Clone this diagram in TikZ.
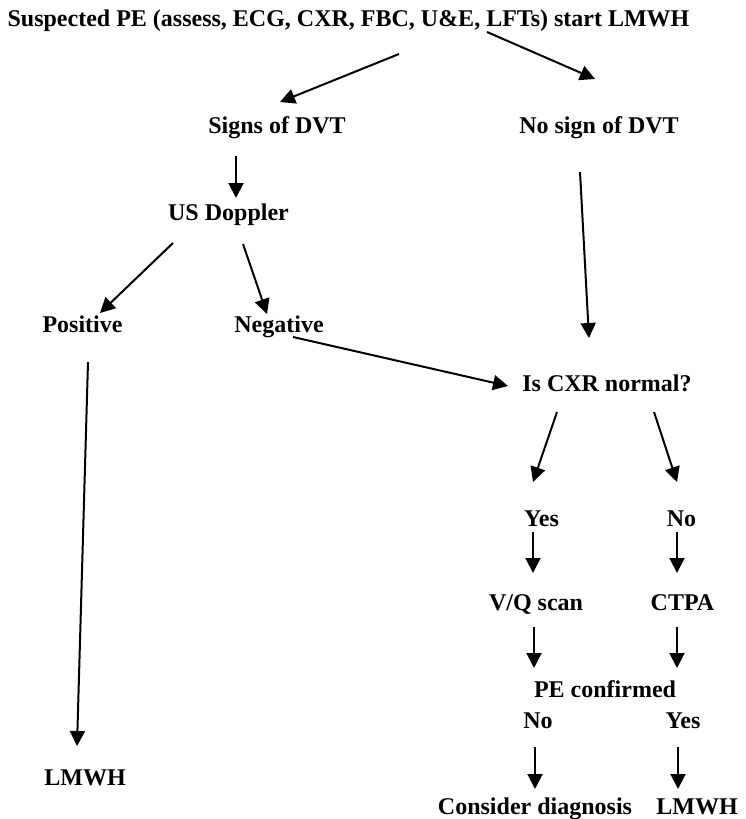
\documentclass[tikz,border=0pt]{standalone}
\usepackage{fontspec}
\setmainfont{Liberation Serif}
\usetikzlibrary{arrows.meta}
\begin{document}
\begin{tikzpicture}[x=1pt,y=-1pt,
  lbl/.style={anchor=base,inner sep=0pt,font=\fontsize{24}{28}\selectfont\bfseries},
  flow/.style={line width=2pt,-{Triangle[length=15pt,width=15pt]}}]
\useasboundingbox (0,0) rectangle (746,819);

% labels
\node[lbl] (title) at (348.5,26) {Suspected PE (assess, ECG, CXR, FBC, U\&E, LFTs) start LMWH};
\node[lbl] (sdvt)  at (277,133)  {Signs of DVT};
\node[lbl] (ndvt)  at (599,133)  {No sign of DVT};
\node[lbl] (usd)   at (228.5,220) {US Doppler};
\node[lbl] (pos)   at (82.5,332) {Positive};
\node[lbl] (neg)   at (279,332)  {Negative};
\node[lbl] (lmwhA) at (85,785)   {LMWH};
\node[lbl] (cxr)   at (607,391)  {Is CXR normal?};
\node[lbl] (cyes)  at (541.5,526) {Yes};
\node[lbl] (cno)   at (681.5,526) {No};
\node[lbl] (vq)    at (536,610)  {V/Q scan};
\node[lbl] (ctpa)  at (682.5,610) {CTPA};
\node[lbl] (pec)   at (605,697)  {PE confirmed};
\node[lbl] (pno)   at (538,728)  {No};
\node[lbl] (pyes)  at (683,728)  {Yes};
\node[lbl] (cons)  at (535,814)  {Consider diagnosis};
\node[lbl] (lmwhB) at (697,814)  {LMWH};

% connector end points
\coordinate (t-l)  at (399,54);   \coordinate (sdvt-in) at (280,102);
\coordinate (t-r)  at (487,32);   \coordinate (ndvt-in) at (595,79);
\coordinate (sdvt-out) at (236,156); \coordinate (usd-in) at (236,198);
\coordinate (usd-l) at (173,243); \coordinate (pos-in) at (100,313);
\coordinate (usd-r) at (243,244); \coordinate (neg-in) at (267,314);
\coordinate (pos-out) at (88,362); \coordinate (lmwhA-in) at (77,746);
\coordinate (ndvt-out) at (580,172); \coordinate (cxr-in1) at (589,338);
\coordinate (neg-out) at (293,337); \coordinate (cxr-in2) at (508,386);
\coordinate (cxr-l) at (557,412); \coordinate (cyes-in) at (533,482);
\coordinate (cxr-r) at (654,412); \coordinate (cno-in) at (677,482);
\coordinate (cyes-out) at (533,532); \coordinate (vq-in) at (533,573);
\coordinate (cno-out) at (677,532); \coordinate (ctpa-in) at (677,573);
\coordinate (vq-out) at (534,627); \coordinate (pec-inl) at (534,668);
\coordinate (ctpa-out) at (677,627); \coordinate (pec-inr) at (677,668);
\coordinate (pno-out) at (535,747); \coordinate (cons-in) at (535,789);
\coordinate (pyes-out) at (678,747); \coordinate (lmwhB-in) at (678,789);

% connectors
\draw[flow] (t-l) -- (sdvt-in);
\draw[flow] (t-r) -- (ndvt-in);
\draw[flow] (sdvt-out) -- (usd-in);
\draw[flow] (usd-l) -- (pos-in);
\draw[flow] (usd-r) -- (neg-in);
\draw[flow] (pos-out) -- (lmwhA-in);
\draw[flow] (ndvt-out) -- (cxr-in1);
\draw[flow] (neg-out) -- (cxr-in2);
\draw[flow] (cxr-l) -- (cyes-in);
\draw[flow] (cxr-r) -- (cno-in);
\draw[flow] (cyes-out) -- (vq-in);
\draw[flow] (cno-out) -- (ctpa-in);
\draw[flow] (vq-out) -- (pec-inl);
\draw[flow] (ctpa-out) -- (pec-inr);
\draw[flow] (pno-out) -- (cons-in);
\draw[flow] (pyes-out) -- (lmwhB-in);
\end{tikzpicture}
\end{document}
